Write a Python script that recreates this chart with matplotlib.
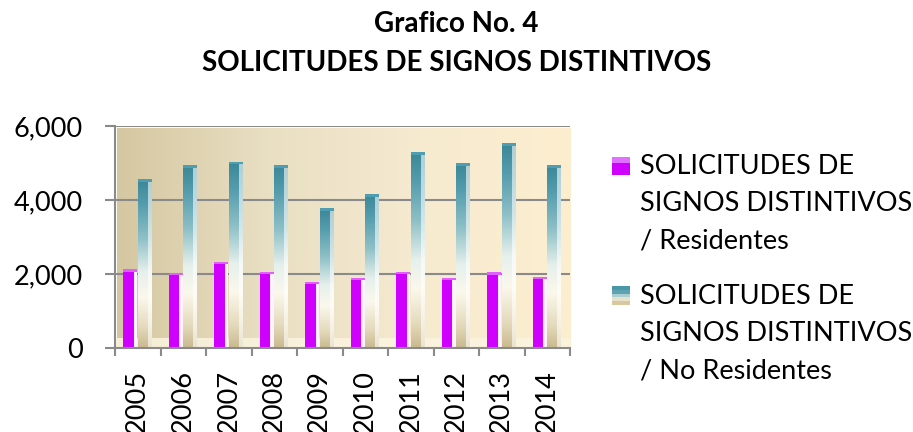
import numpy as np
import matplotlib
matplotlib.use("Agg")
import matplotlib.pyplot as plt
from matplotlib.colors import LinearSegmentedColormap
from matplotlib.patches import Rectangle
from matplotlib.legend_handler import HandlerBase

years = ["2005", "2006", "2007", "2008", "2009", "2010", "2011", "2012", "2013", "2014"]
residentes = [2130, 2035, 2330, 2060, 1790, 1900, 2060, 1900, 2050, 1930]
no_residentes = [4560, 4945, 5035, 4945, 3775, 4160, 5290, 4990, 5530, 4935]
label_res = "SOLICITUDES DE\nSIGNOS DISTINTIVOS\n/ Residentes"
label_nores = "SOLICITUDES DE\nSIGNOS DISTINTIVOS\n/ No Residentes"
title_1 = "Grafico No. 4"
title_2 = "SOLICITUDES DE SIGNOS DISTINTIVOS"

plt.rcParams['font.family'] = ['Lato', 'DejaVu Sans']

W, H = 913, 432
fig = plt.figure(figsize=(W / 100, H / 100), dpi=100)
ax = fig.add_axes([115 / W, (H - 348) / H, (570 - 115) / W, (348 - 126) / H])

x = np.arange(len(years))
ax.set_xlim(-0.5, len(years) - 0.5)
ax.set_ylim(0, 6000)

# background gradient
bg = LinearSegmentedColormap.from_list("bg", ["#d5c7a1", "#e9dfc3", "#f6ead0", "#fdeecf"])
grad = np.linspace(0, 1, 256).reshape(1, -1)
ax.imshow(grad, cmap=bg, extent=(-0.46, 9.5, 0, 5940), aspect="auto", zorder=0, interpolation="bicubic")
ax.axhspan(0, 260, color="#fbf4df", alpha=0.85, zorder=0.5, lw=0)

gray = "#8a8a8a"
for v in [2000, 4000, 6000]:
    ax.axhline(v, color=gray, lw=1.5, zorder=1)

teal_cmap = LinearSegmentedColormap.from_list(
    "teal", [(0.0, "#c9b98e"), (0.12, "#e4d9bb"), (0.3, "#fbf8ec"), (0.45, "#e6f0ec"),
             (0.65, "#8ec0c7"), (0.85, "#559dae"), (1.0, "#3a8797")])
vgrad = np.linspace(0, 1, 256).reshape(-1, 1)

bw = 0.30
off_r, off_n = -0.165, 0.155
cap = 70

# Residentes bars
bars_r = ax.bar(x + off_r, residentes, width=bw, color="#d000ff", zorder=2, lw=0)
ax.bar(x + off_r + bw * 0.5 - bw * 0.13, residentes, width=bw * 0.26, color="#fdf0ff", zorder=2.1, lw=0)
ax.bar(x + off_r, [cap] * len(x), bottom=np.array(residentes) - cap, width=bw,
       color="#e060ff", zorder=2.2, lw=0)

# No residentes bars (gradient)
bars_n = ax.bar(x + off_n, no_residentes, width=bw, color="none", zorder=2, lw=0)
for b in bars_n:
    x0, y0 = b.get_x(), b.get_y()
    w, h = b.get_width(), b.get_height()
    im = ax.imshow(vgrad, cmap=teal_cmap, origin="lower", extent=(x0, x0 + w, y0, y0 + h),
                   aspect="auto", zorder=2, interpolation="bicubic")
    im.set_clip_path(b)
ax.bar(x + off_n + bw * 0.5 - bw * 0.14, no_residentes, width=bw * 0.28, color="white",
       alpha=0.6, zorder=2.1, lw=0)
ax.bar(x + off_n, [cap] * len(x), bottom=np.array(no_residentes) - cap, width=bw,
       color="#4f9db0", zorder=2.2, lw=0)

ax.set_xlim(-0.5, len(years) - 0.5)
ax.set_ylim(0, 6000)

# axes styling
for s in ["top", "right"]:
    ax.spines[s].set_visible(False)
for s in ["left", "bottom"]:
    ax.spines[s].set_color(gray)
    ax.spines[s].set_linewidth(1.5)
ax.set_yticks([0, 2000, 4000, 6000])
ax.set_yticklabels(["0", "2,000", "4,000", "6,000"])
ax.tick_params(axis="y", length=7, width=1.5, color=gray, pad=16, labelsize=19.5)
ax.set_xticks(x)
ax.set_xticklabels(years, rotation=90, fontsize=19.5)
ax.tick_params(axis="x", length=0, pad=16)
ax.set_xticks(np.arange(-0.5, len(years)), minor=True)
ax.tick_params(axis="x", which="minor", length=6, width=1.5, color=gray)

SHIFT = 27.6  # points: align marker with first label line


class GradHandler(HandlerBase):
    def __init__(self, colors, **kw):
        super().__init__(**kw)
        self.colors = colors

    def create_artists(self, legend, orig_handle, xdescent, ydescent, width, height, fontsize, trans):
        n = len(self.colors)
        arts = []
        for i, c in enumerate(self.colors):
            r = Rectangle((-xdescent, -ydescent + SHIFT + height * i / n), width, height / n + 0.3,
                          facecolor=c, edgecolor="none", transform=trans)
            arts.append(r)
        return arts


h1 = Rectangle((0, 0), 1, 1, facecolor="#d000ff")
h2 = Rectangle((0, 0), 1, 1, facecolor="#4a97a8")
leg = fig.legend([h1, h2], [label_res, label_nores], loc="upper left",
                 bbox_to_anchor=(612 / W, 1 - 154 / H), frameon=False, fontsize=19.5,
                 handlelength=0.65, handleheight=0.65, handletextpad=0.4, labelspacing=1.1,
                 borderpad=0, borderaxespad=0,
                 handler_map={h1: GradHandler(["#d000ff", "#d000ff", "#e070ff"]),
                              h2: GradHandler(["#d8c8a0", "#e8e2cc", "#a9cfd3", "#5fa3b3", "#4a97a8"])})
for t in leg.get_texts():
    t.set_linespacing(1.62)

fig.text(0.5, 1 - 32 / H, title_1, ha="center", va="baseline", fontsize=20, fontweight="bold")
fig.text(0.5, 1 - 71 / H, title_2, ha="center", va="baseline", fontsize=20, fontweight="bold")

fig.savefig("out.png", dpi=100)
